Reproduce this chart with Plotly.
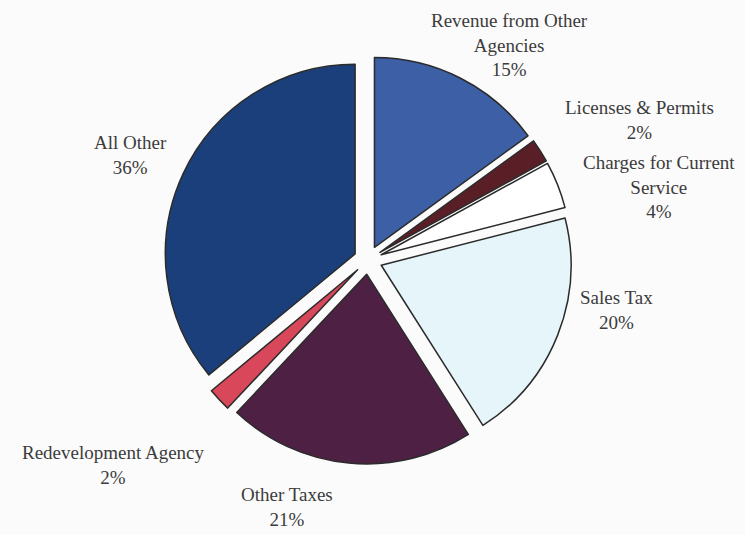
import plotly.graph_objects as go

# Revenue sources, clockwise from 12 o'clock
categories = [
    "Revenue from Other<br>Agencies",
    "Licenses & Permits",
    "Charges for Current<br>Service",
    "Sales Tax",
    "Other Taxes",
    "Redevelopment Agency",
    "All Other",
]
shares = [15, 2, 4, 20, 21, 2, 36]
colors = ["#3d5fa6", "#5a1f26", "#ffffff", "#e6f5f9", "#4e2144", "#d8485a", "#1b3f7a"]

# label placement (paper coordinates) for each category
label_x = [0.684, 0.859, 0.884, 0.827, 0.385, 0.153, 0.175]
label_y = [0.916, 0.776, 0.650, 0.421, 0.052, 0.131, 0.710]

fig = go.Figure(
    go.Pie(
        labels=categories,
        values=shares,
        sort=False,
        direction="clockwise",
        rotation=0,
        pull=[0.075] * len(shares),
        marker=dict(colors=colors, line=dict(color="#2b2b2b", width=1.5)),
        textinfo="none",
        hoverinfo="label+percent",
        domain=dict(x=[0.2201, 0.7678], y=[0.1327, 0.8953]),
        showlegend=False,
    )
)

for name, v, x, y in zip(categories, shares, label_x, label_y):
    fig.add_annotation(
        text=f"{name}<br>{v}%",
        x=x, y=y, xref="paper", yref="paper",
        xanchor="center", yanchor="middle",
        showarrow=False, align="center",
        font=dict(family="Liberation Serif", size=19, color="#3c3c3c"),
    )

fig.update_layout(
    width=745, height=535,
    margin=dict(l=0, r=0, t=0, b=0),
    paper_bgcolor="#fbfbfb",
    plot_bgcolor="#fbfbfb",
)

fig.write_html("out.html")
